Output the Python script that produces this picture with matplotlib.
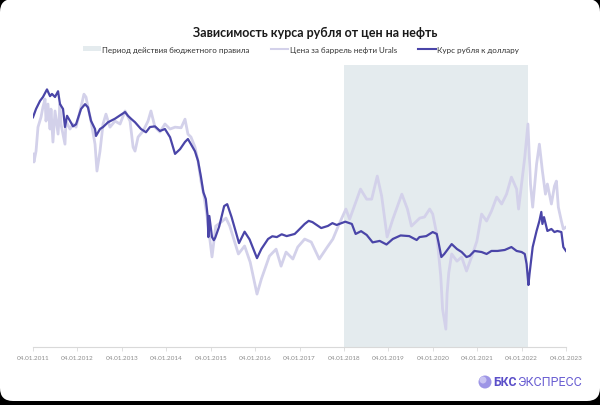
import pandas as pd
import matplotlib
matplotlib.use("Agg")
import matplotlib.pyplot as plt
import matplotlib.dates as mdates
from matplotlib.patches import FancyBboxPatch, Patch, Circle
from matplotlib.lines import Line2D

# USD/RUB rate (rubles per dollar)
rub_dates = [
    "2011-01-04", "2011-01-29", "2011-03-03", "2011-03-27", "2011-04-29", "2011-05-24",
    "2011-06-09", "2011-07-04", "2011-07-29", "2011-08-14", "2011-09-08", "2011-09-24",
    "2011-10-11", "2011-11-04", "2011-11-29", "2011-12-24", "2012-02-03", "2012-03-07",
    "2012-03-31", "2012-04-25", "2012-05-28", "2012-06-05", "2012-07-08", "2012-08-02",
    "2012-09-12", "2012-11-08", "2013-01-30", "2013-02-23", "2013-03-20", "2013-04-22",
    "2013-06-10", "2013-07-21", "2013-08-23", "2013-10-03", "2013-11-13", "2013-12-24",
    "2014-02-04", "2014-03-17", "2014-04-27", "2014-06-07", "2014-07-01", "2014-07-26",
    "2014-08-28", "2014-09-22", "2014-10-16", "2014-11-05", "2014-11-25", "2014-12-10",
    "2014-12-16", "2014-12-24", "2015-01-15", "2015-01-30", "2015-02-10", "2015-03-15",
    "2015-04-25", "2015-05-20", "2015-06-25", "2015-08-25", "2015-10-10", "2015-11-20",
    "2016-01-20", "2016-02-25", "2016-04-20", "2016-05-25", "2016-07-01", "2016-08-10",
    "2016-09-20", "2016-11-25", "2016-12-20", "2017-02-15", "2017-03-20", "2017-04-20",
    "2017-07-01", "2017-08-25", "2017-10-01", "2017-11-05", "2017-12-10", "2018-01-15",
    "2018-03-10", "2018-04-10", "2018-05-25", "2018-07-10", "2018-08-28", "2018-10-25",
    "2018-12-20", "2019-02-10", "2019-04-15", "2019-06-25", "2019-08-25", "2019-09-17",
    "2019-11-12", "2020-01-04", "2020-02-06", "2020-02-20", "2020-03-15", "2020-04-08",
    "2020-06-08", "2020-07-21", "2020-08-29", "2020-10-08", "2020-11-02", "2020-12-12",
    "2021-02-09", "2021-03-22", "2021-05-01", "2021-06-20", "2021-08-18", "2021-10-12",
    "2021-11-24", "2022-01-04", "2022-01-30", "2022-02-14", "2022-03-01", "2022-03-10",
    "2022-04-05", "2022-05-07", "2022-05-30", "2022-06-15", "2022-06-24", "2022-07-07",
    "2022-08-04", "2022-09-06", "2022-10-01", "2022-10-25", "2022-11-27", "2022-12-13",
    "2023-01-04",
]
rub_values = [
    30.9, 29.8, 28.8, 28.35, 27.5, 28.25,
    28.0, 28.35, 27.7, 29.2, 29.8, 32.3,
    30.7, 31.4, 32.2, 31.9, 29.8, 29.2,
    29.6, 31.4, 32.6, 33.7, 32.6, 32.3,
    31.6, 31.1, 30.2, 30.7, 31.1, 31.6,
    32.6, 33.1, 32.3, 32.2, 32.9, 32.6,
    33.9, 36.9, 36.0, 34.7, 34.2, 35.1,
    36.4, 38.3, 42.0, 46.3, 48.5, 55.0,
    66.0, 55.0, 66.0, 68.0, 66.5, 60.0,
    51.0, 50.3, 55.5, 70.0, 62.8, 67.5,
    82.5, 74.4, 67.2, 65.5, 66.0, 64.3,
    65.4, 64.1, 62.4, 58.7, 57.2, 57.8,
    60.8, 59.7, 58.3, 59.2, 58.4, 57.6,
    58.7, 64.1, 62.5, 64.7, 69.5, 68.5,
    71.0, 67.2, 65.0, 65.4, 67.9, 66.0,
    65.4, 63.0, 64.1, 69.2, 81.4, 78.6,
    70.7, 74.4, 76.9, 81.4, 80.4, 76.0,
    76.9, 78.6, 76.0, 76.0, 75.2, 72.9,
    76.0, 76.9, 78.6, 88.6, 121.0, 101.5,
    72.9, 62.4, 57.3, 53.3, 58.7, 55.5,
    62.4, 61.3, 63.0, 62.4, 63.0, 72.9,
    76.0,
]

# Urals oil price, USD per barrel
oil_dates = [
    "2011-01-04", "2011-01-12", "2011-01-29", "2011-02-14", "2011-03-11", "2011-03-27",
    "2011-04-13", "2011-04-21", "2011-05-07", "2011-05-24", "2011-06-01", "2011-06-17",
    "2011-07-04", "2011-07-29", "2011-08-14", "2011-08-22", "2011-09-24", "2011-10-02",
    "2011-11-04", "2011-11-29", "2011-12-24", "2012-02-03", "2012-02-27", "2012-03-15",
    "2012-03-31", "2012-04-25", "2012-05-28", "2012-06-13", "2012-07-08", "2012-08-02",
    "2012-08-26", "2012-09-28", "2012-11-08", "2012-12-20", "2013-01-30", "2013-03-12",
    "2013-04-06", "2013-04-22", "2013-05-17", "2013-06-27", "2013-08-07", "2013-08-31",
    "2013-10-03", "2013-11-13", "2013-12-24", "2014-02-04", "2014-03-17", "2014-05-06",
    "2014-06-07", "2014-07-01", "2014-07-26", "2014-08-28", "2014-09-22", "2014-10-16",
    "2014-11-10", "2014-12-05", "2015-01-15", "2015-02-15", "2015-04-01", "2015-05-10",
    "2015-06-10", "2015-08-20", "2015-10-10", "2015-11-25", "2016-01-20", "2016-02-25",
    "2016-05-01", "2016-06-25", "2016-08-05", "2016-09-15", "2016-11-10", "2016-12-20",
    "2017-02-15", "2017-04-10", "2017-06-15", "2017-08-20", "2017-10-05", "2017-11-25",
    "2018-01-20", "2018-02-20", "2018-05-20", "2018-07-10", "2018-08-20", "2018-10-05",
    "2018-11-10", "2018-12-25", "2019-02-10", "2019-04-25", "2019-06-10", "2019-07-13",
    "2019-09-20", "2019-10-28", "2019-12-10", "2020-01-04", "2020-02-06", "2020-03-10",
    "2020-03-25", "2020-04-21", "2020-05-01", "2020-05-15", "2020-06-08", "2020-07-21",
    "2020-08-29", "2020-10-08", "2020-11-18", "2021-01-01", "2021-02-09", "2021-03-22",
    "2021-05-01", "2021-06-13", "2021-07-24", "2021-09-02", "2021-10-12", "2021-11-24",
    "2021-12-10", "2022-01-04", "2022-01-30", "2022-02-25", "2022-03-18", "2022-04-05",
    "2022-05-07", "2022-05-30", "2022-06-24", "2022-07-19", "2022-08-04", "2022-09-06",
    "2022-10-01", "2022-10-17", "2022-11-02", "2022-11-27", "2022-12-13", "2023-01-04",
]
oil_values = [
    94.5, 90.7, 95.9, 107.3, 112.1, 116.9,
    120.7, 110.2, 118.3, 106.4, 115.9, 100.2,
    115.0, 104.0, 118.3, 108.8, 99.2, 110.2,
    106.4, 108.8, 107.3, 116.9, 123.0, 121.6,
    116.9, 110.2, 99.2, 86.4, 95.9, 108.8,
    113.5, 107.3, 110.2, 108.8, 115.0, 110.2,
    97.8, 95.9, 102.6, 105.4, 110.2, 115.0,
    107.3, 105.0, 108.8, 106.4, 107.3, 107.0,
    111.1, 104.0, 102.6, 97.8, 91.1, 81.6,
    74.5, 65.0, 45.5, 60.2, 62.1, 64.0,
    60.2, 46.9, 50.7, 43.0, 27.8, 35.0,
    45.9, 49.2, 41.1, 47.8, 44.5, 50.2,
    54.0, 52.6, 44.5, 50.2, 54.0, 61.1,
    68.3, 63.5, 77.8, 73.0, 73.0, 84.0,
    74.5, 55.0, 63.5, 75.4, 68.3, 60.2,
    64.0, 64.5, 68.3, 65.9, 56.4, 36.4,
    20.7, 11.1, 28.0, 38.0, 46.9, 43.5,
    45.4, 38.8, 45.4, 53.0, 65.9, 62.6,
    67.3, 74.0, 70.7, 75.4, 83.5, 77.8,
    68.3, 80.2, 93.0, 108.8, 80.2, 69.2,
    89.7, 99.2, 86.4, 75.4, 80.2, 70.7,
    79.2, 81.6, 69.2, 62.6, 58.8, 59.7,
]

rule_start = "2018-01-01"
rule_end = "2022-02-24"
tick_years = list(range(2011, 2024))

rub_d = pd.to_datetime(rub_dates)
oil_d = pd.to_datetime(oil_dates)
rub_inv = [1.0 / v for v in rub_values]  # dollars per ruble, so the line follows oil

W, H = 600, 406
fig = plt.figure(figsize=(W / 100, H / 100), dpi=100)
fig.patch.set_facecolor("black")
card = FancyBboxPatch((0, 0.04), 6.0, 4.02, boxstyle="round,pad=0,rounding_size=0.13",
                      transform=fig.dpi_scale_trans, facecolor="white", edgecolor="none",
                      zorder=-10)
fig.patches.append(card)

ax = fig.add_axes([33 / W, (H - 348) / H, (566 - 33) / W, (348 - 66) / H])
ax.set_facecolor("none")
ax2 = ax.twinx()
ax2.set_facecolor("none")

shade_c = "#e4ebee"
oil_c = "#d3d1ea"
rub_c = "#4a45a8"

ax.axvspan(pd.Timestamp(rule_start), pd.Timestamp(rule_end), color=shade_c, lw=0, zorder=0)
ax.plot(oil_d, oil_values, color=oil_c, lw=2.0, zorder=2)
ax2.plot(rub_d, rub_inv, color=rub_c, lw=1.6, zorder=3)

ax.set_xlim(pd.Timestamp("2011-01-04"), pd.Timestamp("2023-01-04"))
ax.set_ylim(2.6, 136.9)
ax2.set_ylim(-0.00064, 0.03987)

ticks = [pd.Timestamp(f"{y}-01-04") for y in tick_years]
ax.set_xticks(ticks)
ax.xaxis.set_major_formatter(mdates.DateFormatter("%d.%m.%Y"))
ax.tick_params(axis="x", length=3, width=0.6, color="#d9d9d9", labelsize=4.6,
               labelcolor="#8c8c8c", pad=3)
for lab in ax.get_xticklabels():
    lab.set_fontfamily("Lato")
for a in (ax, ax2):
    a.set_yticks([])
    for s in ("top", "right", "left", "bottom"):
        a.spines[s].set_visible(False)
ax.spines["bottom"].set_visible(True)
ax.spines["bottom"].set_color("#d9d9d9")
ax.spines["bottom"].set_linewidth(0.8)

fig.text(315 / W, 1 - 33 / H, "Зависимость курса рубля от цен на нефть", ha="center", va="center",
         fontsize=9.0, fontweight="bold", family="Lato", color="#1a1a1a")

handles = [
    Patch(facecolor=shade_c, edgecolor="none"),
    Line2D([], [], color=oil_c, lw=1.5),
    Line2D([], [], color=rub_c, lw=1.5),
]
labels = ["Период действия бюджетного правила", "Цена за баррель нефти Urals", "Курс рубля к доллару"]
fig.legend(handles, labels, loc="center", bbox_to_anchor=(301 / W, 1 - 50 / H), ncol=3,
           frameon=False, prop={"family": "Lato", "size": 5.8}, handlelength=2.2,
           handleheight=0.5, handletextpad=0.15, columnspacing=2.6, labelcolor="#333333")

# logo
fig.patches.append(Circle((4.85, 4.06 - 3.83), 0.065, transform=fig.dpi_scale_trans,
                          facecolor="#9d95e6", edgecolor="none"))
fig.patches.append(Circle((4.83, 4.06 - 3.81), 0.035, transform=fig.dpi_scale_trans,
                          facecolor="#c9c4f2", edgecolor="none"))
fig.text(493 / W, 1 - 383 / H, "БКС", ha="left", va="center", fontsize=8.8, fontweight="bold",
         family="Roboto", color="#5b4fc9")
fig.text(517 / W, 1 - 383 / H, "ЭКСПРЕСС", ha="left", va="center", fontsize=9.0,
         family="Roboto", color="#6a5fd2")

fig.savefig("out.png", dpi=100, facecolor=fig.get_facecolor())
